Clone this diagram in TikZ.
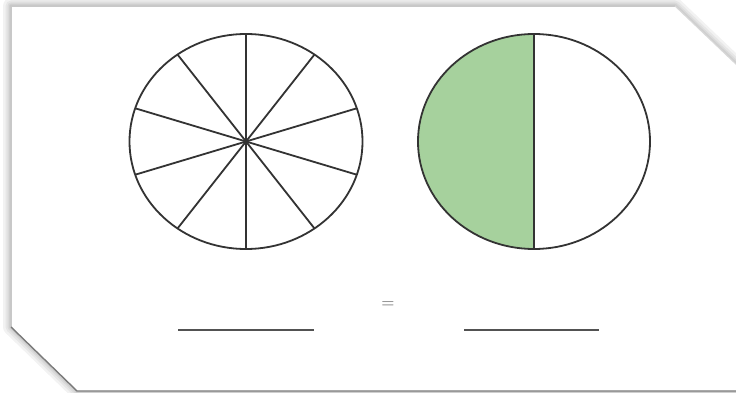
\documentclass[tikz,border=0pt]{standalone}
\usepackage{xcolor}
\usepackage{tikz}
\usetikzlibrary{calc}
\definecolor{piegreen}{HTML}{A6D19D}
\definecolor{pieink}{HTML}{333333}
\definecolor{cardedge}{HTML}{C8C8C8}
\definecolor{cardcut}{HTML}{7A7A7A}
\definecolor{eqgray}{HTML}{7E7E7E}
\tikzset{
  pieline/.style={draw=pieink, line width=1.8pt},
  blankline/.style={draw=pieink!85, line width=2.2pt},
  glow/.style={draw=black, opacity=0.05, line join=round},
  eqsign/.style={text=eqgray, font=\fontsize{15}{15}\selectfont\bfseries, inner sep=0pt}
}

\begin{document}
\begin{tikzpicture}[x=1pt, y=-1pt]
  \useasboundingbox (0,0) rectangle (736,393);
  % card with clipped corners
  \foreach \w in {16,11,7,4}
    \draw[glow, line width=\w pt] (11,6) -- (675,6) -- (740,68) -- (740,391) -- (77,391) -- (11,327) -- cycle;
  \fill[white] (11,6) -- (675,6) -- (740,68) -- (740,391) -- (77,391) -- (11,327) -- cycle;
  \draw[cardedge, line width=1.6pt] (11,327) -- (11,6) -- (675,6);
  \draw[cardedge!70, line width=1pt] (675,6) -- (740,68);
  \draw[cardcut, line width=1.4pt] (11,327) -- (77,391) -- (740,391);

  % ten parts
  \coordinate (tenths) at (246,141.5);
  \draw[pieline] (tenths) ellipse [x radius=116.5, y radius=107.5];
  \foreach \a in {90,126,162,198,234}
    \draw[pieline] ($(tenths)+(\a:116.5 and 107.5)$) -- ($(tenths)+(\a+180:116.5 and 107.5)$);

  % one half shaded
  \coordinate (halves) at (534,141.5);
  \fill[piegreen] ($(halves)+(0,107.5)$) arc[start angle=90, end angle=270, x radius=116, y radius=107.5] -- cycle;
  \draw[pieline] (halves) ellipse [x radius=116, y radius=107.5];
  \draw[pieline] ($(halves)+(0,-107.5)$) -- ($(halves)+(0,107.5)$);

  % answer blanks
  \node[eqsign] (equals) at (388,305) {=};
  \draw[blankline] (178,330) -- (314,330);
  \draw[blankline] (464,330) -- (599,330);
\end{tikzpicture}
\end{document}
